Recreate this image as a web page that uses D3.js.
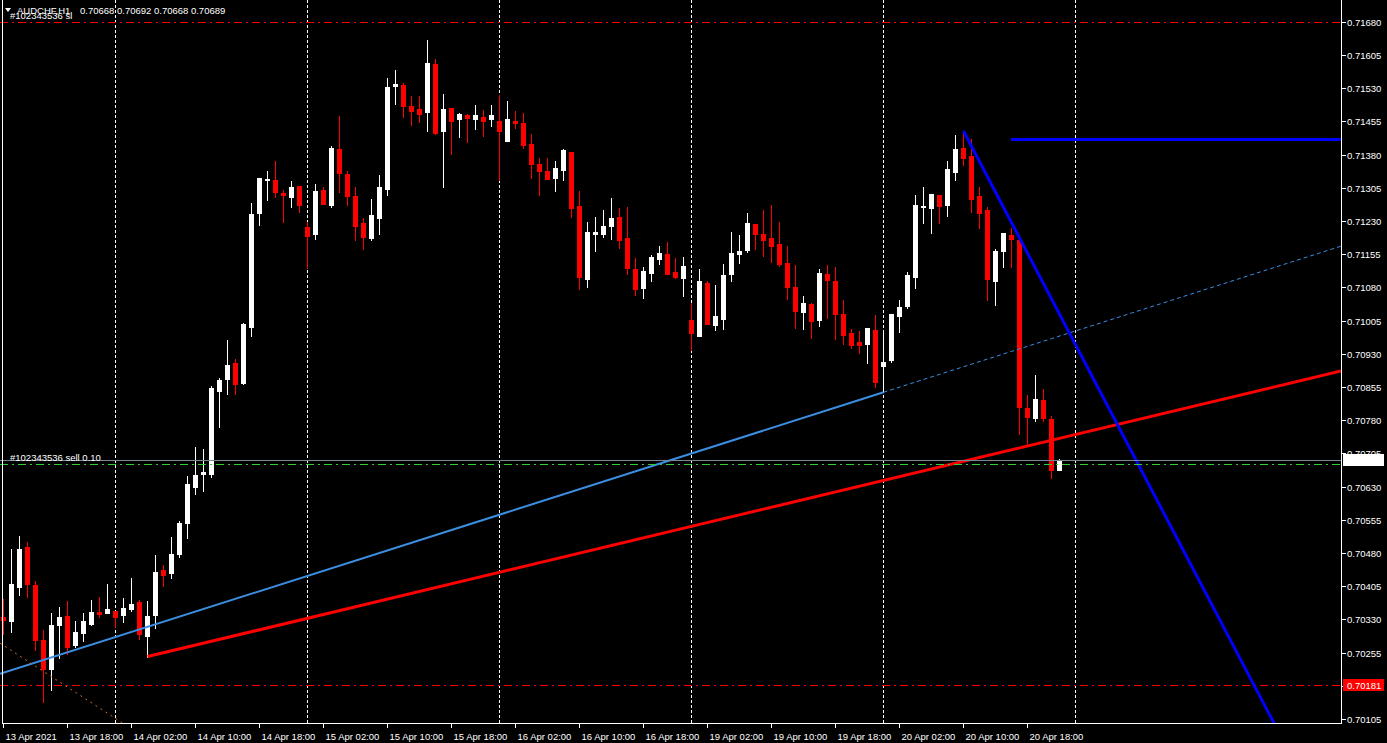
<!DOCTYPE html>
<html><head><meta charset="utf-8">
<script src="https://cdn.jsdelivr.net/npm/d3@7"></script>
<style>
html,body{margin:0;padding:0;background:#000;overflow:hidden}
svg{display:block}
text{font-family:"Liberation Sans",Arial,sans-serif;font-size:9.5px;fill:#fff}
</style>
</head><body>
<svg id="c" width="1387" height="743"></svg>
<script>
// ---- DATA (AUDCHF H1, bar index 0 = 13 Apr 2021 10:00) ----
const open  = [0.70335,0.70327,0.70404,0.70493,0.70408,0.70283,0.70218,0.70318,0.70338,0.70273,0.70300,0.70320,0.70347,0.70345,0.70349,0.70340,0.70353,0.70369,0.70293,0.70340,0.70441,0.70435,0.70478,0.70548,0.70629,0.70658,0.70658,0.70846,0.70874,0.70909,0.70864,0.70991,0.71249,0.71323,0.71322,0.71293,0.71284,0.71309,0.71216,0.71200,0.71300,0.71266,0.71392,0.71336,0.71286,0.71225,0.71191,0.71237,0.71302,0.71535,0.71537,0.71490,0.71483,0.71476,0.71584,0.71433,0.71485,0.71460,0.71469,0.71460,0.71465,0.71460,0.71456,0.71411,0.71456,0.71451,0.71404,0.71359,0.71343,0.71327,0.71345,0.71386,0.71264,0.71099,0.71200,0.71200,0.71219,0.71239,0.71191,0.71121,0.71078,0.71112,0.71144,0.71155,0.71115,0.71101,0.71006,0.70970,0.71090,0.70995,0.71008,0.71110,0.71155,0.71164,0.71223,0.71200,0.71191,0.71178,0.71135,0.71081,0.71024,0.71042,0.71006,0.71110,0.71094,0.71020,0.70977,0.70956,0.70952,0.70984,0.70902,0.70916,0.71015,0.71038,0.71103,0.71261,0.71259,0.71289,0.71266,0.71340,0.71395,0.71377,0.71286,0.71255,0.71094,0.71162,0.71198,0.71187,0.70807,0.70785,0.70825,0.70782,0.70668];
const high  = [0.70376,0.70489,0.70519,0.70505,0.70417,0.70306,0.70344,0.70358,0.70371,0.70326,0.70344,0.70374,0.70380,0.70410,0.70349,0.70378,0.70423,0.70374,0.70371,0.70475,0.70453,0.70516,0.70552,0.70654,0.70720,0.70715,0.70857,0.70875,0.70961,0.70918,0.70999,0.71270,0.71327,0.71343,0.71366,0.71300,0.71320,0.71309,0.71228,0.71313,0.71307,0.71399,0.71468,0.71343,0.71307,0.71237,0.71280,0.71334,0.71553,0.71572,0.71542,0.71512,0.71512,0.71639,0.71596,0.71517,0.71485,0.71474,0.71472,0.71492,0.71481,0.71492,0.71514,0.71501,0.71478,0.71474,0.71426,0.71372,0.71372,0.71365,0.71392,0.71386,0.71298,0.71228,0.71239,0.71255,0.71282,0.71259,0.71261,0.71146,0.71126,0.71153,0.71173,0.71182,0.71146,0.71148,0.71045,0.71121,0.71094,0.71085,0.71133,0.71205,0.71198,0.71248,0.71223,0.71255,0.71266,0.71228,0.71173,0.71130,0.71060,0.71045,0.71121,0.71130,0.71126,0.71051,0.70986,0.70981,0.70988,0.71017,0.70981,0.71020,0.71051,0.71115,0.71289,0.71307,0.71291,0.71289,0.71365,0.71424,0.71433,0.71415,0.71307,0.71261,0.71167,0.71203,0.71214,0.71187,0.70837,0.70882,0.70850,0.70789,0.70692];
const low   = [0.70297,0.70302,0.70385,0.70380,0.70261,0.70144,0.70171,0.70243,0.70252,0.70268,0.70282,0.70318,0.70336,0.70345,0.70313,0.70325,0.70349,0.70286,0.70246,0.70311,0.70406,0.70424,0.70471,0.70514,0.70613,0.70621,0.70652,0.70765,0.70840,0.70840,0.70862,0.70971,0.71220,0.71277,0.71285,0.71228,0.71261,0.71251,0.71124,0.71189,0.71268,0.71261,0.71295,0.71266,0.71187,0.71167,0.71187,0.71200,0.71289,0.71494,0.71465,0.71447,0.71453,0.71433,0.71426,0.71307,0.71381,0.71420,0.71408,0.71438,0.71422,0.71444,0.71322,0.71411,0.71440,0.71395,0.71327,0.71289,0.71325,0.71298,0.71322,0.71239,0.71076,0.71081,0.71162,0.71194,0.71189,0.71169,0.71110,0.71063,0.71056,0.71094,0.71133,0.71110,0.71101,0.71060,0.70938,0.70970,0.70997,0.70984,0.70986,0.71094,0.71135,0.71160,0.71167,0.71151,0.71137,0.71128,0.71054,0.70988,0.70986,0.70966,0.70993,0.71011,0.70963,0.70952,0.70943,0.70932,0.70909,0.70855,0.70843,0.70911,0.70979,0.71033,0.71078,0.71225,0.71203,0.71225,0.71241,0.71322,0.71356,0.71250,0.71214,0.71051,0.71040,0.71126,0.71126,0.70749,0.70724,0.70778,0.70778,0.70649,0.70668];
const close = [0.70328,0.70410,0.70489,0.70410,0.70284,0.70218,0.70317,0.70335,0.70268,0.70301,0.70326,0.70347,0.70343,0.70353,0.70336,0.70356,0.70365,0.70297,0.70338,0.70437,0.70431,0.70478,0.70548,0.70636,0.70656,0.70663,0.70853,0.70871,0.70905,0.70862,0.70997,0.71246,0.71327,0.71325,0.71295,0.71289,0.71307,0.71266,0.71197,0.71298,0.71268,0.71395,0.71338,0.71286,0.71219,0.71194,0.71243,0.71307,0.71532,0.71539,0.71490,0.71478,0.71472,0.71587,0.71429,0.71483,0.71456,0.71472,0.71462,0.71469,0.71456,0.71469,0.71433,0.71460,0.71451,0.71401,0.71359,0.71343,0.71325,0.71350,0.71390,0.71259,0.71103,0.71205,0.71205,0.71219,0.71237,0.71187,0.71124,0.71076,0.71117,0.71148,0.71157,0.71110,0.71103,0.71128,0.70977,0.71094,0.70997,0.71015,0.71108,0.71157,0.71162,0.71225,0.71200,0.71187,0.71173,0.71133,0.71081,0.71026,0.71045,0.71004,0.71112,0.71097,0.71020,0.70972,0.70950,0.70950,0.70988,0.70866,0.70911,0.71020,0.71036,0.71108,0.71266,0.71264,0.71291,0.71264,0.71347,0.71392,0.71372,0.71280,0.71248,0.71099,0.71162,0.71203,0.71189,0.70810,0.70787,0.70828,0.70785,0.70667,0.70689];

const priceTicks = ["0.70105","0.70180","0.70255","0.70330","0.70405","0.70480","0.70555","0.70630","0.70705","0.70780","0.70855","0.70930","0.71005","0.71080","0.71155","0.71230","0.71305","0.71380","0.71455","0.71530","0.71605","0.71680"];
const timeTickIdx = [0,8,16,24,32,40,48,56,64,72,80,88,96,104,112,120,128];
const timeTickLabels = ["13 Apr 2021","13 Apr 18:00","14 Apr 02:00","14 Apr 10:00","14 Apr 18:00","15 Apr 02:00","15 Apr 10:00","15 Apr 18:00","16 Apr 02:00","16 Apr 10:00","16 Apr 18:00","19 Apr 02:00","19 Apr 10:00","19 Apr 18:00","20 Apr 02:00","20 Apr 10:00","20 Apr 18:00"];
const daySeparators = [14,38,62,86,110,134];

// trend lines: [barIndex, price]
const lightBlueLine = [[0,0.70209],[110,0.70843]];
const redLine = [[18,0.70246],[167,0.70890]];
const blueDownLine = [[120,0.71433],[150,0.70400]];
const blueLevel = [[126,0.71415]];
const orangeLine = [[0,0.70272],[14,0.70107]];

const symbol = "AUDCHF,H1";
const lastOHLC = ["0.70668","0.70692","0.70668","0.70689"];
const bidPrice = 0.70689, orderPrice = 0.70680, slPrice = 0.71680, tpPrice = 0.70181;
const orderLabel = "#102343536 sell 0.10", slLabel = "#102343536 sl";

// ---- LAYOUT ----
const plotR = 1341, plotB = 723;
const svg = d3.select("#c");
svg.append("rect").attr("width",1387).attr("height",743).attr("fill","#000");
const x = d3.scaleLinear().domain([0,132]).range([3,1059]);
const y = d3.scaleLinear().domain([0.70105,0.71680]).range([719,21.7]);

svg.append("defs").append("clipPath").attr("id","pc")
  .append("rect").attr("x",0).attr("y",0).attr("width",plotR).attr("height",plotB);
const g = svg.append("g").attr("clip-path","url(#pc)");

// day separators
g.selectAll(".sep").data(daySeparators).join("line")
  .attr("x1",d=>x(d)+0.5).attr("x2",d=>x(d)+0.5).attr("y1",0).attr("y2",plotB)
  .attr("stroke","#fff").attr("stroke-width",1).attr("stroke-dasharray","3,2");

// SL / TP lines
[slPrice,tpPrice].forEach(p=>{
  g.append("line").attr("x1",0).attr("x2",plotR).attr("y1",Math.round(y(p))+0.5).attr("y2",Math.round(y(p))+0.5)
   .attr("stroke","#ff0000").attr("stroke-width",1).attr("stroke-dasharray","8,4,2,4");
});

// candles
const idx = d3.range(open.length);
const px = v=>Math.round(y(v));
g.selectAll(".wick").data(idx).join("rect")
  .attr("x",i=>x(i)).attr("width",1)
  .attr("y",i=>px(high[i])).attr("height",i=>Math.max(1,px(low[i])-px(high[i])+1))
  .attr("fill",i=>close[i]>=open[i]?"#fff":"#ff0000");
g.selectAll(".body").data(idx).join("rect")
  .attr("x",i=>x(i)-2).attr("width",5)
  .attr("y",i=>px(Math.max(open[i],close[i])))
  .attr("height",i=>Math.max(1,px(Math.min(open[i],close[i]))-px(Math.max(open[i],close[i]))+1))
  .attr("fill",i=>close[i]>=open[i]?"#fff":"#ff0000");

// helpers for lines
function lineAt(a,b,i){return a[1]+(b[1]-a[1])*(i-a[0])/(b[0]-a[0]);}
const iL = x.invert(0), iR = x.invert(plotR), iFar = 200;

// light blue trend line (solid) + dotted extension
g.append("line").attr("x1",0).attr("y1",y(lineAt(lightBlueLine[0],lightBlueLine[1],iL)))
 .attr("x2",x(lightBlueLine[1][0])+0.5).attr("y2",y(lightBlueLine[1][1]))
 .attr("stroke","#3b8ee0").attr("stroke-width",2);
g.append("line").attr("x1",x(lightBlueLine[1][0])+0.5).attr("y1",y(lightBlueLine[1][1]))
 .attr("x2",plotR).attr("y2",y(lineAt(lightBlueLine[0],lightBlueLine[1],iR)))
 .attr("stroke","#3b8ee0").attr("stroke-width",1).attr("stroke-dasharray","4,3");

// orange dotted line
g.append("line").attr("x1",0).attr("y1",y(lineAt(orangeLine[0],orangeLine[1],iL)))
 .attr("x2",x(40)).attr("y2",y(lineAt(orangeLine[0],orangeLine[1],40)))
 .attr("stroke","#d2691e").attr("stroke-width",1).attr("stroke-dasharray","2,4");

// red trend line
g.append("line").attr("x1",x(redLine[0][0])+0.5).attr("y1",y(redLine[0][1]))
 .attr("x2",plotR).attr("y2",y(lineAt(redLine[0],redLine[1],iR)))
 .attr("stroke","#ff0000").attr("stroke-width",3);

// blue down trend line
g.append("line").attr("x1",x(blueDownLine[0][0])+0.5).attr("y1",y(blueDownLine[0][1]))
 .attr("x2",x(iFar)).attr("y2",y(lineAt(blueDownLine[0],blueDownLine[1],iFar)))
 .attr("stroke","#0000ff").attr("stroke-width",3);

// blue horizontal level
g.append("line").attr("x1",x(blueLevel[0][0])).attr("x2",plotR)
 .attr("y1",Math.round(y(blueLevel[0][1]))+0.5).attr("y2",Math.round(y(blueLevel[0][1]))+0.5)
 .attr("stroke","#0000ff").attr("stroke-width",3);

// bid line & order line
g.append("line").attr("x1",0).attr("x2",plotR).attr("y1",Math.round(y(bidPrice))+0.5).attr("y2",Math.round(y(bidPrice))+0.5)
 .attr("stroke","#778899").attr("stroke-width",1);
g.append("line").attr("x1",0).attr("x2",plotR).attr("y1",Math.round(y(orderPrice))+0.5).attr("y2",Math.round(y(orderPrice))+0.5)
 .attr("stroke","#32cd32").attr("stroke-width",1).attr("stroke-dasharray","8,4,2,4");

// labels inside plot
svg.append("text").attr("x",10).attr("y",Math.round(y(bidPrice))+1).text(orderLabel).attr("fill","#dde6f0");
svg.append("text").attr("x",10).attr("y",19).text(slLabel).attr("fill","#dde6f0");
svg.append("path").attr("d","M5,8 L11,8 L8,12 Z").attr("fill","#fff");
svg.append("text").attr("x",17).attr("y",13.5).text(symbol);
svg.append("text").attr("x",80).attr("y",13.5).text(lastOHLC.join(" "));

// frame
svg.append("line").attr("x1",2.5).attr("x2",2.5).attr("y1",0).attr("y2",plotB+0.5).attr("stroke","#fff");
svg.append("line").attr("x1",plotR+0.5).attr("x2",plotR+0.5).attr("y1",0).attr("y2",plotB+1).attr("stroke","#fff");
svg.append("line").attr("x1",2).attr("x2",plotR+1).attr("y1",plotB+0.5).attr("y2",plotB+0.5).attr("stroke","#fff");

// right axis
const ra = svg.append("g");
priceTicks.forEach(t=>{
  const yy = Math.round(y(+t))+0.5;
  ra.append("line").attr("x1",plotR+1).attr("x2",plotR+5).attr("y1",yy).attr("y2",yy).attr("stroke","#fff");
  ra.append("text").attr("x",plotR+6).attr("y",yy+3.5).text(t);
});
// price boxes
function priceBox(p,fill,txt){
  const yy = Math.round(y(p));
  ra.append("rect").attr("x",plotR+2).attr("y",yy-6).attr("width",41).attr("height",12).attr("fill",fill);
  ra.append("text").attr("x",plotR+6).attr("y",yy+3.5).text(txt).attr("fill","#000");
}
priceBox(bidPrice,"#fff",bidPrice.toFixed(5));
priceBox(tpPrice,"#ff0000",tpPrice.toFixed(5));

// bottom axis
const ba = svg.append("g");
timeTickIdx.forEach((ti,k)=>{
  const xx = x(ti)+0.5;
  ba.append("line").attr("x1",xx).attr("x2",xx).attr("y1",plotB+1).attr("y2",plotB+5).attr("stroke","#fff");
  ba.append("text").attr("x",xx+2).attr("y",740).text(timeTickLabels[k]);
});
</script>
</body></html>
